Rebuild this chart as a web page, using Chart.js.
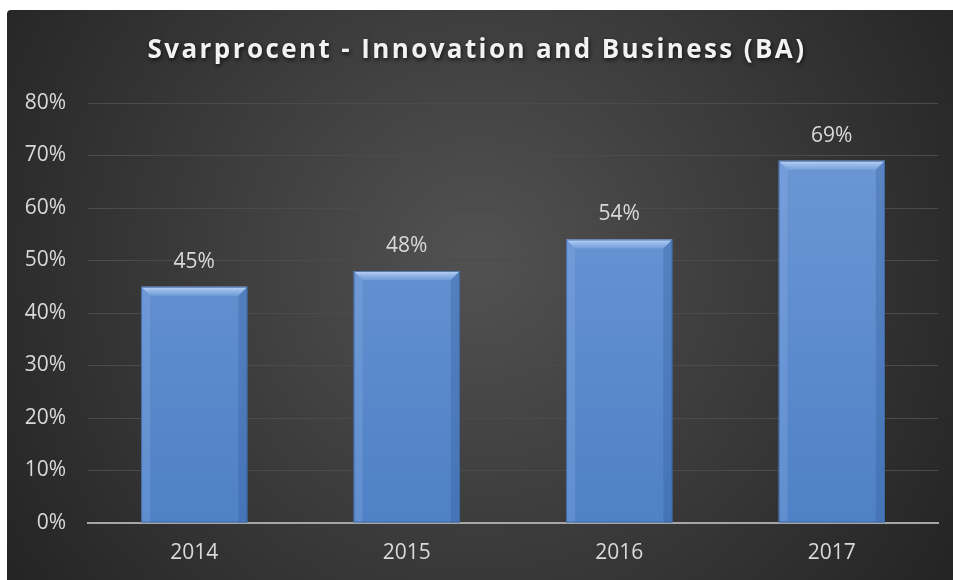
<!DOCTYPE html>
<html>
<head>
<meta charset="utf-8">
<script src="https://cdn.jsdelivr.net/npm/chart.js@4.4.0/dist/chart.umd.min.js"></script>
<style>
    html, body { margin: 0; padding: 0; background: #ffffff; }
    #wrap { width: 953px; height: 580px; position: relative; }
</style>
</head>
<body>
<div id="wrap"><canvas id="chart"></canvas></div>
<script>
// Dữ liệu biểu đồ
const chartTitle = 'Svarprocent - Innovation and Business (BA)';
const years = ['2014', '2015', '2016', '2017'];
const svarprocent = [0.45, 0.48, 0.54, 0.69];
const yTicks = [0, 0.1, 0.2, 0.3, 0.4, 0.5, 0.6, 0.7, 0.8];

const labelColor = '#d9d9d9';
const baseFont = '"Open Sans", "Noto Sans", sans-serif';

function pct(v) {
    return Math.round(v * 100) + '%';
}

// Nền tối có gradient tròn
const backgroundPlugin = {
    id: 'darkBackground',
    beforeDraw(chart) {
        const ctx = chart.ctx;
        const w = chart.width, h = chart.height;
        ctx.save();
        ctx.fillStyle = '#ffffff';
        ctx.fillRect(0, 0, w, h);
        const g = ctx.createRadialGradient(w / 2, h * 0.45, 20, w / 2, h * 0.45, w * 0.62);
        g.addColorStop(0, '#505050');
        g.addColorStop(1, '#222222');
        ctx.fillStyle = g;
        ctx.beginPath();
        ctx.roundRect(7, 10, w, h, 4);
        ctx.fill();
        ctx.restore();
    }
};

// Tiêu đề có giãn chữ và bóng đổ
const titlePlugin = {
    id: 'spacedTitle',
    afterDraw(chart) {
        const ctx = chart.ctx;
        ctx.save();
        ctx.font = 'bold 26px ' + baseFont;
        ctx.letterSpacing = '2.4px';
        ctx.textAlign = 'center';
        ctx.textBaseline = 'middle';
        ctx.shadowColor = 'rgba(0,0,0,0.7)';
        ctx.shadowBlur = 4;
        ctx.shadowOffsetX = 1;
        ctx.shadowOffsetY = 2;
        ctx.fillStyle = '#f2f2f2';
        ctx.fillText(chartTitle, 477, 51);
        ctx.restore();
    }
};

// Hiệu ứng vát cạnh cho cột và nhãn giá trị
const barStylePlugin = {
    id: 'barStyle',
    afterDatasetsDraw(chart) {
        const ctx = chart.ctx;
        const meta = chart.getDatasetMeta(0);
        meta.data.forEach((bar, i) => {
            const left = bar.x - bar.width / 2;
            const right = bar.x + bar.width / 2;
            const top = bar.y;
            const bottom = bar.base;
            const b = 9;
            ctx.save();
            // cạnh trên sáng
            const gTop = ctx.createLinearGradient(0, top, 0, top + b);
            gTop.addColorStop(0, 'rgba(200,222,252,0.9)');
            gTop.addColorStop(1, 'rgba(150,185,235,0.35)');
            ctx.fillStyle = gTop;
            ctx.beginPath();
            ctx.moveTo(left, top);
            ctx.lineTo(right, top);
            ctx.lineTo(right - b, top + b);
            ctx.lineTo(left + b, top + b);
            ctx.closePath();
            ctx.fill();
            // cạnh trái
            ctx.fillStyle = 'rgba(150,185,235,0.25)';
            ctx.beginPath();
            ctx.moveTo(left, top);
            ctx.lineTo(left + b, top + b);
            ctx.lineTo(left + b, bottom);
            ctx.lineTo(left, bottom);
            ctx.closePath();
            ctx.fill();
            // cạnh phải tối
            ctx.fillStyle = 'rgba(40,80,140,0.25)';
            ctx.beginPath();
            ctx.moveTo(right, top);
            ctx.lineTo(right - b, top + b);
            ctx.lineTo(right - b, bottom);
            ctx.lineTo(right, bottom);
            ctx.closePath();
            ctx.fill();
            // viền
            ctx.strokeStyle = 'rgba(60,100,160,0.8)';
            ctx.lineWidth = 1;
            ctx.strokeRect(left + 0.5, top + 0.5, bar.width - 1, bottom - top - 1);
            ctx.restore();

            // nhãn phần trăm
            ctx.save();
            ctx.font = '21px ' + baseFont;
            ctx.fillStyle = labelColor;
            ctx.textAlign = 'center';
            ctx.textBaseline = 'middle';
            ctx.fillText(pct(svarprocent[i]), bar.x, top - 25);
            ctx.restore();
        });
    }
};

const ctx = document.getElementById('chart').getContext('2d');

new Chart(ctx, {
    type: 'bar',
    data: {
        labels: years,
        datasets: [{
            label: 'Svarprocent',
            data: svarprocent,
            backgroundColor: (c) => {
                const area = c.chart.chartArea;
                if (!area) return '#6a95d2';
                const g = c.chart.ctx.createLinearGradient(0, area.top, 0, area.bottom);
                g.addColorStop(0, '#6f99d6');
                g.addColorStop(1, '#4f81c6');
                return g;
            },
            borderWidth: 0,
            barPercentage: 0.5,
            categoryPercentage: 1
        }]
    },
    options: {
        responsive: true,
        maintainAspectRatio: false,
        animation: false,
        layout: {
            padding: { left: 7, top: 103, right: 15, bottom: 0 }
        },
        plugins: {
            legend: { display: false },
            tooltip: { enabled: false }
        },
        scales: {
            x: {
                grid: { display: false },
                border: { display: true, color: '#a6a6a6', width: 2 },
                ticks: {
                    color: labelColor,
                    font: { family: baseFont, size: 21 },
                    padding: 9
                },
                afterFit(scale) { scale.height = 57; }
            },
            y: {
                min: 0,
                max: 0.8,
                afterBuildTicks(scale) {
                    scale.ticks = yTicks.map(v => ({ value: v }));
                },
                grid: {
                    color: (c) => c.tick && c.tick.value === 0 ? 'rgba(0,0,0,0)' : '#4b4b4b',
                    lineWidth: 1,
                    drawTicks: false
                },
                border: { display: false },
                ticks: {
                    color: labelColor,
                    font: { family: baseFont, size: 21 },
                    padding: 22,
                    callback: (v) => pct(v)
                },
                afterFit(scale) { scale.width = 81; }
            }
        }
    },
    plugins: [backgroundPlugin, barStylePlugin, titlePlugin]
});
</script>
</body>
</html>
